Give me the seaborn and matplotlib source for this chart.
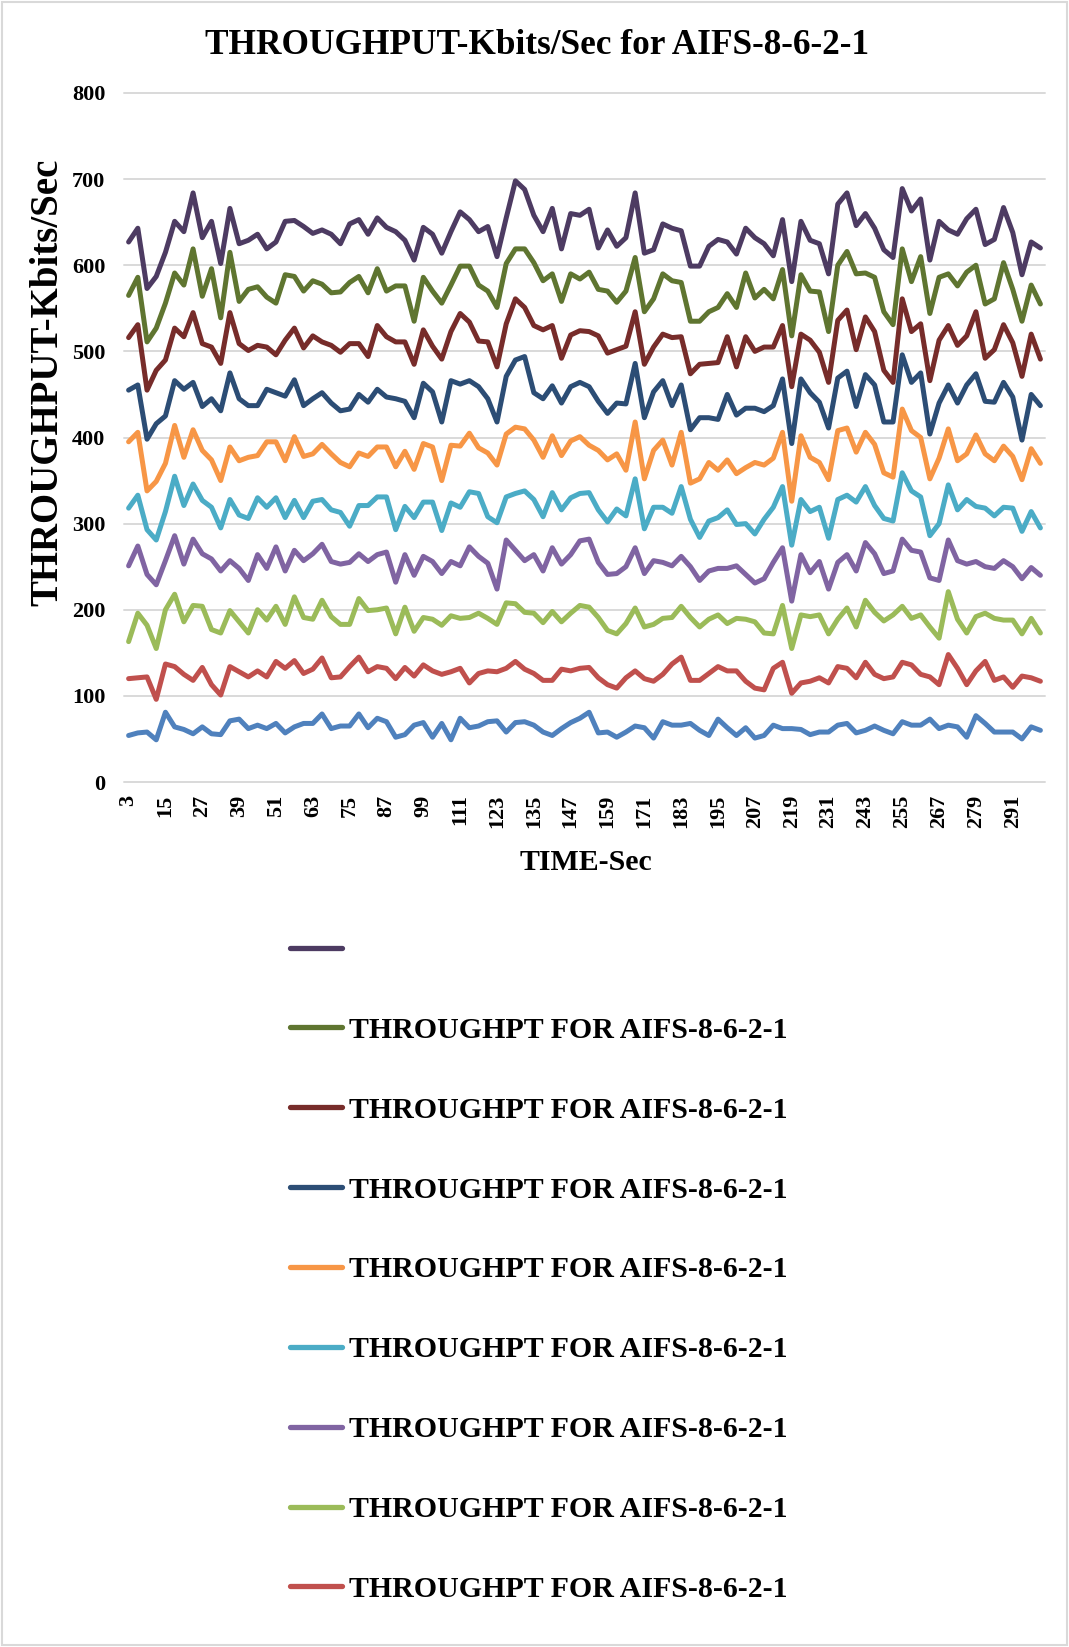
import matplotlib
matplotlib.use("Agg")
import matplotlib.pyplot as plt
import numpy as np
import pandas as pd
import seaborn as sns
from matplotlib.lines import Line2D
from matplotlib.patches import Rectangle

# ---------------- data ----------------
time_sec = list(range(3, 301, 3))          # categories 3, 6, ..., 300
tick_labels = [str(t) for t in time_sec[::4]]  # 3, 15, 27, ... 291

s01_blue = [54, 57, 58, 49, 81, 64, 61, 56, 64, 56, 55, 71, 73, 62, 66, 62, 68, 57, 64,
            68, 68, 79, 62, 65, 65, 79, 63, 74, 70, 52, 55, 66, 69, 52, 68, 49, 74, 63,
            65, 70, 71, 58, 69, 70, 66, 58, 54, 62, 69, 74, 81, 57, 58,
            52, 58, 65, 63, 51, 70, 66, 66, 68, 60, 54, 73, 63, 54, 63,
            51, 54, 66, 62, 62, 61, 55, 58, 58, 66, 68, 57, 60, 65, 60,
            56, 70, 66, 66, 73, 62, 66, 64, 52, 77, 68, 58, 58, 58, 50, 64, 60]
s02_red = [120, 121, 122, 96, 137, 134, 125, 118, 133, 113, 101, 134, 128, 122, 129, 122, 140, 132, 141,
           126, 131, 144, 121, 122, 134, 145, 128, 134, 132, 120, 133, 123, 136, 129, 125, 128, 132, 115,
           126, 129, 128, 132, 140, 131, 126, 118, 118, 131, 129, 132, 133, 121, 113,
           109, 121, 129, 120, 117, 125, 137, 145, 118, 118, 126, 134, 129, 129, 117,
           109, 107, 132, 139, 103, 115, 117, 121, 115, 134, 132, 121, 139, 125, 120,
           122, 139, 136, 125, 122, 113, 148, 132, 113, 129, 140, 118, 122, 110, 123, 121, 117]
s03_green = [163, 196, 182, 155, 200, 218, 186, 205, 204, 177, 173, 199, 186, 173, 200, 188, 204, 183, 215,
             191, 189, 211, 192, 183, 183, 213, 199, 200, 202, 172, 203, 175, 191, 189, 182, 193, 190, 191,
             196, 190, 183, 208, 207, 197, 196, 185, 198, 186, 196, 205, 203, 191, 176,
             172, 184, 202, 180, 183, 190, 191, 204, 191, 180, 189, 194, 184, 190, 189,
             186, 173, 172, 205, 155, 194, 192, 194, 172, 189, 202, 180, 211, 197, 187,
             194, 204, 190, 194, 180, 167, 221, 189, 173, 192, 196, 190, 188, 188, 172, 190, 173]
s04_purple = [251, 274, 241, 229, 257, 286, 253, 282, 265, 259, 245, 257, 248, 234, 264, 248, 273, 245, 269,
              257, 265, 276, 256, 253, 255, 265, 256, 264, 267, 232, 264, 240, 262, 256, 242, 256, 251, 273,
              262, 254, 224, 281, 269, 257, 264, 245, 272, 253, 264, 280, 282, 255, 241,
              242, 250, 272, 242, 257, 255, 251, 262, 250, 234, 245, 248, 248, 251, 241,
              231, 236, 255, 272, 210, 264, 243, 256, 224, 255, 264, 245, 278, 265, 242,
              245, 282, 269, 267, 237, 234, 281, 257, 253, 256, 250, 248, 257, 250, 236, 249, 240]
s05_aqua = [318, 333, 293, 281, 314, 355, 321, 346, 327, 319, 295, 328, 310, 306, 330, 319, 330, 307, 327,
            307, 326, 328, 316, 313, 297, 321, 321, 331, 331, 293, 320, 307, 325, 325, 292, 324, 319, 337,
            335, 308, 301, 331, 335, 338, 328, 308, 336, 316, 330, 335, 336, 316, 302,
            317, 309, 352, 294, 319, 319, 312, 343, 305, 284, 303, 307, 316, 299, 300,
            288, 305, 319, 343, 275, 328, 314, 319, 283, 328, 333, 325, 343, 321, 306,
            303, 359, 338, 331, 286, 300, 345, 316, 328, 320, 318, 309, 319, 318, 291, 314, 295]
s06_orange = [395, 406, 338, 349, 370, 414, 377, 409, 385, 374, 350, 389, 373, 377, 379, 395, 395, 373, 401,
              378, 381, 392, 381, 371, 366, 382, 378, 389, 389, 366, 384, 363, 393, 389, 350, 391, 390, 405,
              388, 382, 368, 404, 412, 410, 397, 377, 402, 379, 396, 401, 391, 385, 374,
              381, 362, 418, 352, 385, 397, 368, 406, 347, 352, 371, 362, 374, 358, 365,
              371, 368, 376, 406, 326, 402, 377, 371, 351, 408, 411, 383, 406, 392, 359,
              354, 433, 408, 400, 352, 376, 410, 373, 381, 403, 381, 373, 390, 378, 351, 387, 370]
s07_navy = [455, 461, 398, 416, 425, 466, 456, 464, 436, 445, 431, 475, 445, 437, 437, 456, 452, 448, 467,
            437, 445, 452, 440, 431, 433, 450, 441, 456, 447, 445, 442, 423, 463, 453, 418, 466, 462, 466,
            459, 445, 418, 471, 490, 494, 452, 445, 460, 440, 459, 464, 459, 442, 428,
            440, 439, 486, 423, 453, 466, 437, 461, 409, 423, 423, 421, 450, 426, 434,
            434, 430, 437, 468, 393, 468, 452, 441, 411, 469, 477, 436, 473, 461, 418,
            418, 496, 464, 475, 404, 440, 461, 440, 461, 474, 442, 441, 464, 447, 397, 450, 437]
s08_darkred = [516, 531, 455, 478, 490, 527, 517, 545, 509, 505, 486, 545, 509, 501, 507, 505, 496, 513, 527,
               504, 518, 511, 507, 499, 509, 509, 494, 530, 517, 511, 511, 485, 525, 506, 491, 523, 544, 534,
               512, 511, 482, 532, 561, 551, 530, 525, 530, 492, 519, 524, 523, 518, 498,
               502, 506, 546, 485, 505, 520, 516, 517, 474, 485, 486, 487, 517, 482, 517,
               500, 505, 505, 530, 459, 520, 513, 499, 464, 536, 548, 502, 540, 523, 478,
               464, 561, 523, 532, 466, 513, 530, 507, 518, 546, 492, 502, 531, 510, 471, 520, 491]
s09_darkgreen = [565, 586, 511, 527, 556, 591, 577, 619, 564, 596, 539, 615, 558, 572, 575, 563, 556, 589, 587,
                 570, 582, 578, 568, 569, 580, 587, 568, 596, 570, 576, 576, 535, 586, 570, 556, 577, 599, 599,
                 577, 570, 551, 602, 619, 619, 603, 582, 590, 558, 590, 584, 592, 572, 570,
                 557, 570, 609, 546, 561, 590, 582, 580, 535, 535, 546, 551, 567, 551, 591,
                 562, 572, 561, 595, 518, 589, 570, 569, 523, 600, 616, 590, 591, 586, 546,
                 531, 619, 581, 610, 544, 586, 590, 576, 592, 600, 555, 561, 603, 572, 535, 577, 555]
s10_darkpurple = [627, 643, 573, 587, 615, 651, 639, 684, 632, 651, 602, 666, 625, 629, 636, 619, 627, 651, 652,
                  645, 637, 641, 636, 625, 648, 653, 636, 655, 644, 639, 629, 606, 644, 636, 614, 639, 662, 653,
                  639, 645, 610, 655, 698, 688, 658, 639, 666, 619, 660, 658, 665, 620, 641,
                  622, 632, 684, 614, 618, 648, 643, 640, 599, 599, 622, 630, 627, 613, 643,
                  632, 625, 611, 653, 581, 651, 629, 625, 590, 671, 684, 646, 660, 643, 618,
                  609, 689, 663, 677, 606, 651, 641, 636, 654, 665, 624, 630, 667, 638, 589, 627, 620]

series_values = [s01_blue, s02_red, s03_green, s04_purple, s05_aqua,
                 s06_orange, s07_navy, s08_darkred, s09_darkgreen, s10_darkpurple]
series_ids = ["S1", "S2", "S3", "S4", "S5", "S6", "S7", "S8", "S9", "S10"]
series_colors = ["#4F81BD", "#C0504D", "#9BBB59", "#8064A2", "#4BACC6",
                 "#F79646", "#2C4D75", "#772C2A", "#5F7530", "#4D3B62"]
legend_text = "THROUGHPT FOR AIFS-8-6-2-1"
# legend as visible in the original: S10 (blank label) down to S2; S1 is cut off there
legend_labels = [" "] + [legend_text] * 8

title_text = "THROUGHPUT-Kbits/Sec for AIFS-8-6-2-1"
y_title = "THROUGHPUT-Kbits/Sec"
x_title = "TIME-Sec"

# ---------------- build table ----------------
rows = []
for sid, vals in zip(series_ids, series_values):
    for t, v in zip(time_sec, vals):
        rows.append({"time": t, "kbps": v, "series": sid})
df = pd.DataFrame(rows)

# ---------------- style ----------------
sns.set_theme(style="white")
plt.rcParams['font.family'] = ['Liberation Serif', 'DejaVu Serif']
plt.rcParams['font.weight'] = 'bold'
plt.rcParams['axes.titleweight'] = 'bold'
plt.rcParams['axes.labelweight'] = 'bold'
plt.rcParams['text.color'] = 'black'
plt.rcParams['axes.labelcolor'] = 'black'
plt.rcParams['xtick.color'] = 'black'
plt.rcParams['ytick.color'] = 'black'

W, H = 1069, 1647
fig = plt.figure(figsize=(W / 100, H / 100), dpi=100)
fig.patch.set_facecolor("white")
L, R, T, B = 124, 1045, 93, 782
ax = fig.add_axes([L / W, 1 - B / H, (R - L) / W, (B - T) / H])

palette = dict(zip(series_ids, series_colors))
sns.lineplot(data=df, x="time", y="kbps", hue="series", hue_order=series_ids,
             palette=palette, legend=False, ax=ax, linewidth=3.6,
             estimator=None, sort=False)
for ln in ax.lines:
    ln.set_solid_joinstyle("round")
    ln.set_solid_capstyle("round")

ax.set_xlim(1.5, 301.5)
ax.set_ylim(0, 800)
ax.set_yticks(range(0, 801, 100))
ax.set_xticks(time_sec[::4])
ax.set_xticklabels(tick_labels, rotation=90, fontsize=16, fontweight="bold", color="black")
ax.set_yticklabels([str(v) for v in range(0, 801, 100)], fontsize=16, fontweight="bold", color="black")
ax.tick_params(axis="both", length=0, colors="black")
ax.tick_params(axis="y", pad=13.5)
ax.tick_params(axis="x", pad=9)

ax.grid(axis="y", color="#D9D9D9", linewidth=1.4)
ax.grid(axis="x", visible=False)
for gl in ax.get_ygridlines():
    gl.set_clip_on(False)
for sp in ax.spines.values():
    sp.set_visible(False)
ax.set_axisbelow(True)

ax.set_xlabel(x_title, fontsize=21.5, fontweight="bold", color="black")
ax.xaxis.set_label_coords((586 - L) / (R - L), (B - 862) / (B - T))
ax.xaxis.label.set_va("center")
ax.set_ylabel(y_title, fontsize=28, fontweight="bold", color="black")
ax.yaxis.set_label_coords((48 - L) / (R - L), (B - 382) / (B - T))
ax.yaxis.label.set_va("center")

fig.text(537 / W, 1 - 46 / H, title_text, ha="center", va="center",
         fontsize=25.4, fontweight="bold", color="black")

# legend (reversed series order)
handles = [Line2D([0], [0], color=c, lw=3.8, solid_capstyle="round") for c in series_colors]
handles = handles[::-1][:9]
fig.legend(handles, legend_labels, loc="upper left",
           bbox_to_anchor=(290 / W, 1 - 937 / H), bbox_transform=fig.transFigure,
           frameon=False, prop={"size": 21.5, "weight": "bold", "family": "Liberation Serif"},
           labelcolor="black",
           handlelength=1.74, handletextpad=0.23, labelspacing=1.77,
           borderpad=0, borderaxespad=0)

fig.patches.append(Rectangle((2 / W, 2 / H), 1 - 4 / W, 1 - 4 / H, transform=fig.transFigure,
                             fill=False, edgecolor="#D9D9D9", linewidth=1.5))

fig.savefig("out.png", dpi=100)
